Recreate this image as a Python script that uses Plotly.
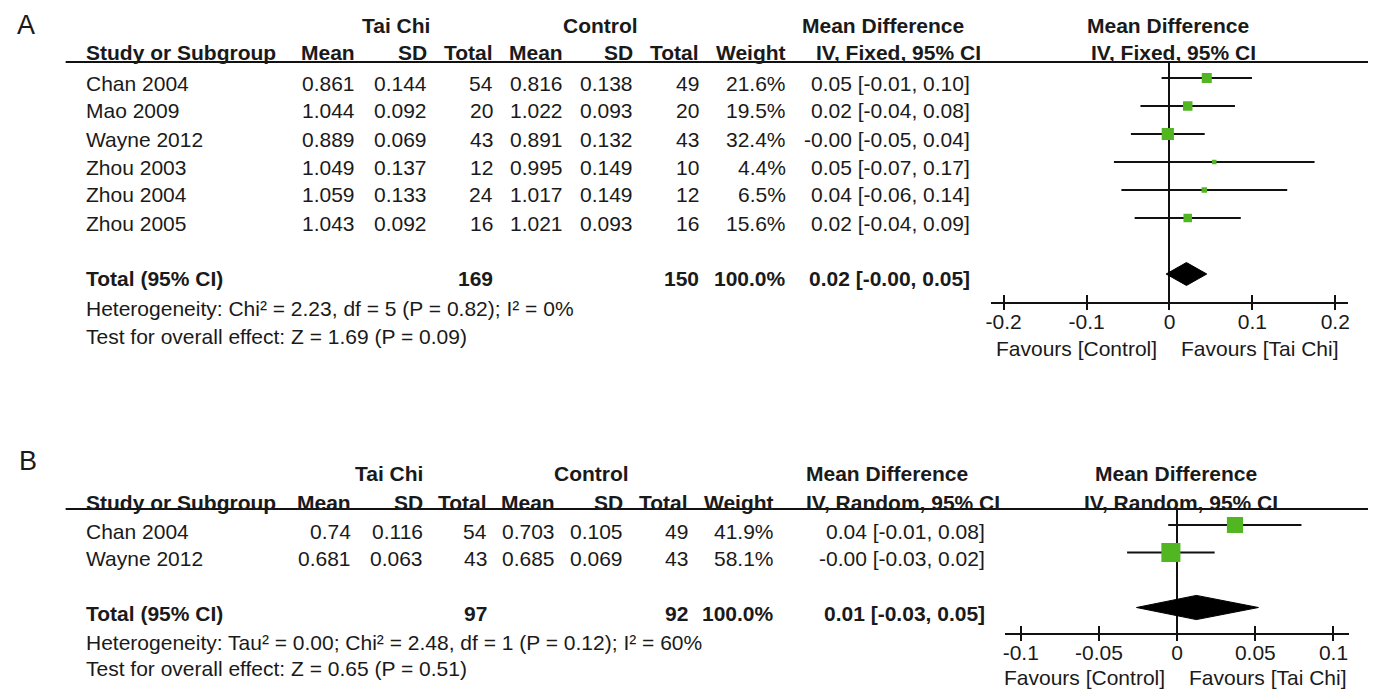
import math
import plotly.graph_objects as go

W, H = 1373, 689
FONT = "Liberation Sans, Arial, sans-serif"
TXT = "#1a1a1a"
GREEN = "#52b623"
LINE = "#111111"

# ---------------- Panel A data ----------------
studies_A = ["Chan 2004", "Mao 2009", "Wayne 2012", "Zhou 2003", "Zhou 2004", "Zhou 2005"]
tc_mean_A = [0.861, 1.044, 0.889, 1.049, 1.059, 1.043]
tc_sd_A = [0.144, 0.092, 0.069, 0.137, 0.133, 0.092]
tc_n_A = [54, 20, 43, 12, 24, 16]
ct_mean_A = [0.816, 1.022, 0.891, 0.995, 1.017, 1.021]
ct_sd_A = [0.138, 0.093, 0.132, 0.149, 0.149, 0.093]
ct_n_A = [49, 20, 43, 10, 12, 16]
weight_A = [21.6, 19.5, 32.4, 4.4, 6.5, 15.6]
md_A = [0.045, 0.022, -0.002, 0.054, 0.042, 0.022]
lo_A = [-0.0095, -0.035, -0.0465, -0.067, -0.058, -0.042]
hi_A = [0.0995, 0.079, 0.0425, 0.175, 0.142, 0.086]
ci_text_A = ["0.05 [-0.01, 0.10]", "0.02 [-0.04, 0.08]", "-0.00 [-0.05, 0.04]",
             "0.05 [-0.07, 0.17]", "0.04 [-0.06, 0.14]", "0.02 [-0.04, 0.09]"]
total_tc_n_A = 169
total_ct_n_A = 150
total_md_A = 0.0205
total_lo_A = -0.004
total_hi_A = 0.045
total_text_A = "0.02 [-0.00, 0.05]"
het_A = "Heterogeneity: Chi² = 2.23, df = 5 (P = 0.82); I² = 0%"
test_A = "Test for overall effect: Z = 1.69 (P = 0.09)"
method_A = "IV, Fixed, 95% CI"
ticks_A = [-0.2, -0.1, 0, 0.1, 0.2]
ticklabels_A = ["-0.2", "-0.1", "0", "0.1", "0.2"]

# ---------------- Panel B data ----------------
studies_B = ["Chan 2004", "Wayne 2012"]
tc_mean_B = [0.74, 0.681]
tc_sd_B = [0.116, 0.063]
tc_n_B = [54, 43]
ct_mean_B = [0.703, 0.685]
ct_sd_B = [0.105, 0.069]
ct_n_B = [49, 43]
weight_B = [41.9, 58.1]
md_B = [0.037, -0.004]
lo_B = [-0.0057, -0.032]
hi_B = [0.0795, 0.024]
ci_text_B = ["0.04 [-0.01, 0.08]", "-0.00 [-0.03, 0.02]"]
total_tc_n_B = 97
total_ct_n_B = 92
total_md_B = 0.0123
total_lo_B = -0.026
total_hi_B = 0.052
total_text_B = "0.01 [-0.03, 0.05]"
het_B = "Heterogeneity: Tau² = 0.00; Chi² = 2.48, df = 1 (P = 0.12); I² = 60%"
test_B = "Test for overall effect: Z = 0.65 (P = 0.51)"
method_B = "IV, Random, 95% CI"
ticks_B = [-0.1, -0.05, 0, 0.05, 0.1]
ticklabels_B = ["-0.1", "-0.05", "0", "0.05", "0.1"]

fav_left = "Favours [Control]"
fav_right = "Favours [Tai Chi]"


def px(x):
    return x / W


def py(y):
    return 1 - y / H


annotations = []


def txt(x, y, s, anchor="left", bold=False, size=21):
    annotations.append(dict(
        x=px(x), y=py(y), xref="paper", yref="paper",
        text=f"<b>{s}</b>" if bold else s,
        xanchor=anchor, yanchor="middle", showarrow=False,
        font=dict(family=FONT, size=size, color=TXT)))


fig = go.Figure()


def panel(p):
    n = len(p["studies"])
    rows = list(range(n))
    trow = n + 1
    sizes = [p["k"] * math.sqrt(w) for w in p["weight"]]
    fig.add_trace(go.Scatter(
        x=p["md"], y=rows, mode="markers",
        xaxis=p["xa"], yaxis=p["ya"],
        marker=dict(symbol="square", size=sizes, color=GREEN, opacity=1,
                    line=dict(width=0)),
        error_x=dict(type="data", symmetric=False,
                     array=[h - m for h, m in zip(p["hi"], p["md"])],
                     arrayminus=[m - l for m, l in zip(p["md"], p["lo"])],
                     width=0, thickness=2, color=LINE),
        showlegend=False, hoverinfo="skip"))
    hh = p["dh"]
    fig.add_trace(go.Scatter(
        x=[p["tlo"], p["tmd"], p["thi"], p["tmd"], p["tlo"]],
        y=[trow, trow - hh, trow, trow + hh, trow],
        mode="lines", fill="toself", fillcolor="black",
        line=dict(color="black", width=1),
        xaxis=p["xa"], yaxis=p["ya"], showlegend=False, hoverinfo="skip"))
    # overlay axis dummy for crossing ticks
    fig.add_trace(go.Scatter(x=[0], y=[0], mode="markers", marker=dict(opacity=0),
                             xaxis=p["xo"], yaxis=p["ya"], showlegend=False, hoverinfo="skip"))

    c = p["cols"]
    ty = p["ty"]
    txt(c["lab"], ty["lab"], p["label"], "center", size=27)
    txt(c["tc_head"], ty["grp"], "Tai Chi", "center", True)
    txt(c["ct_head"], ty["grp"], "Control", "center", True)
    txt(c["md_left"], ty["grp"], "Mean Difference", "left", True)
    txt(c["g_head1"], ty["grp"], "Mean Difference", "center", True)
    txt(c["study"], ty["head"], "Study or Subgroup", "left", True)
    txt(c["tc_mean"], ty["head"], "Mean", "right", True)
    txt(c["tc_sd"], ty["head"], "SD", "right", True)
    txt(c["tc_n"], ty["head"], "Total", "right", True)
    txt(c["ct_mean"], ty["head"], "Mean", "right", True)
    txt(c["ct_sd"], ty["head"], "SD", "right", True)
    txt(c["ct_n"], ty["head"], "Total", "right", True)
    txt(c["weight"], ty["head"], "Weight", "right", True)
    txt(c["md_left2"], ty["head"], p["method"], "left", True)
    txt(c["g_head2"], ty["head"], p["method"], "center", True)
    for i in range(n):
        y = ty["row0"] + i * ty["dy"]
        txt(c["study"], y, p["studies"][i], "left")
        txt(c["tc_mean"], y, str(p["tc_mean"][i]), "right")
        txt(c["tc_sd"], y, str(p["tc_sd"][i]), "right")
        txt(c["tc_n"], y, str(p["tc_n"][i]), "right")
        txt(c["ct_mean"], y, str(p["ct_mean"][i]), "right")
        txt(c["ct_sd"], y, str(p["ct_sd"][i]), "right")
        txt(c["ct_n"], y, str(p["ct_n"][i]), "right")
        txt(c["weight"], y, f"{p['weight'][i]:.1f}%", "right")
        txt(c["ci"], y, p["ci_text"][i], "right")
    yt = ty["total"]
    txt(c["study"], yt, "Total (95% CI)", "left", True)
    txt(c["tc_n"], yt, str(p["ttc"]), "right", True)
    txt(c["ct_n"], yt, str(p["tct"]), "right", True)
    txt(c["weight"], yt, f"{sum(p['weight']):.1f}%", "right", True)
    txt(c["ci"], yt, p["ttext"], "right", True)
    txt(c["study"], ty["het"], p["het"], "left")
    txt(c["study"], ty["test"], p["test"], "left")
    for s, anc, sh in [(fav_left, "right", -10), (fav_right, "left", 10)]:
        annotations.append(dict(x=0, y=py(ty["fav"]), xref=p["xa"], yref="paper",
                                text=s, xanchor=anc, yanchor="middle", xshift=sh,
                                showarrow=False, font=dict(family=FONT, size=21, color=TXT)))


panel(dict(
    studies=studies_A, tc_mean=tc_mean_A, tc_sd=tc_sd_A, tc_n=tc_n_A,
    ct_mean=ct_mean_A, ct_sd=ct_sd_A, ct_n=ct_n_A, weight=weight_A,
    md=md_A, lo=lo_A, hi=hi_A, ci_text=ci_text_A,
    ttc=total_tc_n_A, tct=total_ct_n_A, tmd=total_md_A, tlo=total_lo_A, thi=total_hi_A,
    ttext=total_text_A, het=het_A, test=test_A, method=method_A, label="A",
    xa="x", ya="y", xo="x3", k=2.15, dh=0.41,
    cols=dict(lab=20, tc_head=392, ct_head=598, md_left=799, g_head1=1169,
              study=78, tc_mean=353, tc_sd=425, tc_n=492, ct_mean=562, ct_sd=633,
              ct_n=699, weight=787, md_left2=813, g_head2=1174, ci=972),
    ty=dict(lab=25, grp=25, head=53, row0=83, dy=28, total=279, het=308, test=336, fav=348),
))

panel(dict(
    studies=studies_B, tc_mean=tc_mean_B, tc_sd=tc_sd_B, tc_n=tc_n_B,
    ct_mean=ct_mean_B, ct_sd=ct_sd_B, ct_n=ct_n_B, weight=weight_B,
    md=md_B, lo=lo_B, hi=hi_B, ci_text=ci_text_B,
    ttc=total_tc_n_B, tct=total_ct_n_B, tmd=total_md_B, tlo=total_lo_B, thi=total_hi_B,
    ttext=total_text_B, het=het_B, test=test_B, method=method_B, label="B",
    xa="x2", ya="y2", xo="x4", k=2.5, dh=0.44,
    cols=dict(lab=22, tc_head=385, ct_head=589, md_left=803, g_head1=1177,
              study=78, tc_mean=349, tc_sd=421, tc_n=486, ct_mean=554, ct_sd=623,
              ct_n=688, weight=775, md_left2=803, g_head2=1182, ci=987),
    ty=dict(lab=461, grp=473, head=502, row0=531, dy=27.5, total=613, het=642, test=668, fav=677),
))

# main axis: labels + upward ticks; overlay axis: downward ticks (so ticks cross the line)
axis_common = dict(showgrid=False, showline=True, linecolor=LINE, linewidth=2,
                   ticks="inside", ticklen=7, tickwidth=2, tickcolor=LINE,
                   tickfont=dict(family=FONT, size=21, color=TXT),
                   zeroline=True, zerolinecolor=LINE, zerolinewidth=2, fixedrange=True)
over_common = dict(showgrid=False, showline=False, ticks="outside", ticklen=7, tickwidth=2,
                   tickcolor=LINE, showticklabels=False, zeroline=False, fixedrange=True)
yhide = dict(visible=False, showgrid=False, zeroline=False, fixedrange=True)

xA_dom = [px(991), px(1350)]
xA_rng = [-0.215, 0.2155]
yA_dom = [py(302), py(62)]
yA_rng = [(302 - 78) / 28, -(78 - 62) / 28]
xB_dom = [px(1005), px(1351)]
xB_rng = [-0.11, 0.11]
yB_dom = [py(633), py(509)]
yB_rng = [(633 - 525) / 27.5, -(525 - 509) / 27.5]

fig.update_layout(
    width=W, height=H, autosize=False,
    margin=dict(l=0, r=0, t=0, b=0),
    paper_bgcolor="white", plot_bgcolor="rgba(0,0,0,0)",
    showlegend=False,
    xaxis=dict(domain=xA_dom, range=xA_rng, anchor="y", tickvals=ticks_A,
               ticktext=ticklabels_A, **axis_common),
    yaxis=dict(domain=yA_dom, range=yA_rng, anchor="x", **yhide),
    xaxis3=dict(overlaying="x", range=xA_rng, anchor="y", tickvals=ticks_A, **over_common),
    xaxis2=dict(domain=xB_dom, range=xB_rng, anchor="y2", tickvals=ticks_B,
                ticktext=ticklabels_B, **axis_common),
    yaxis2=dict(domain=yB_dom, range=yB_rng, anchor="x2", **yhide),
    xaxis4=dict(overlaying="x2", range=xB_rng, anchor="y2", tickvals=ticks_B, **over_common),
    annotations=annotations,
    shapes=[
        dict(type="line", xref="paper", yref="paper", x0=px(60), x1=px(1370),
             y0=py(62), y1=py(62), line=dict(color=LINE, width=2)),
        dict(type="line", xref="paper", yref="paper", x0=px(60), x1=px(1370),
             y0=py(509), y1=py(509), line=dict(color=LINE, width=2)),
    ],
)

fig.write_html(
    "out.html",
    config={"displayModeBar": False},
    post_script="document.body.style.margin='0';document.body.style.padding='0';"
                "document.documentElement.style.overflow='hidden';",
)
